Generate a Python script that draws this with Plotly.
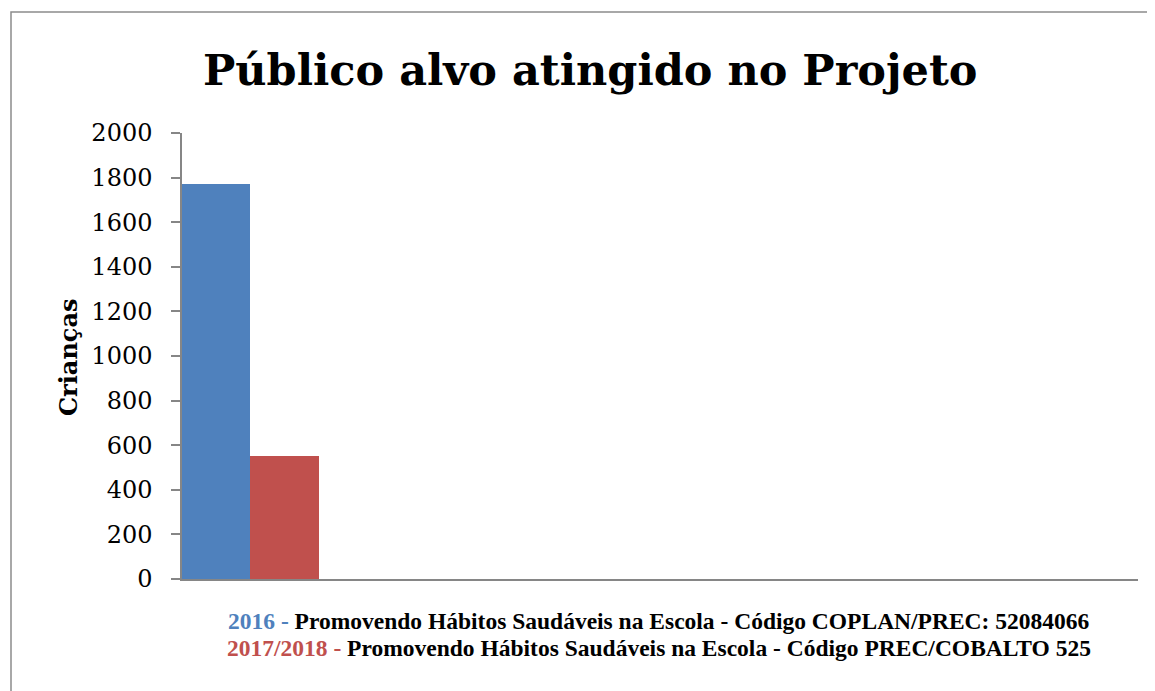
import plotly.graph_objects as go

title_text = "Público alvo atingido no Projeto"
y_title = "Crianças"
categories = [""]
series_names = ["2016", "2017/2018"]
series_values = [[1770], [550]]
series_colors = ["#4F81BD", "#C0504D"]
legend_desc = [
    "Promovendo Hábitos Saudáveis na Escola - Código COPLAN/PREC: 52084066",
    "Promovendo Hábitos Saudáveis na Escola - Código PREC/COBALTO 525",
]
y_ticks = list(range(0, 2001, 200))

OFF = 8  # page body margin
W, H = 1155 - OFF, 691 - OFF
L, R, T, B = 182 - OFF, 17, 133 - OFF, 691 - 579
pw, ph = W - L - R, H - T - B

def px(x):
    return (x - OFF - L) / pw

def py(y):
    return (H - B - (y - OFF)) / ph

fig = go.Figure()
for name, vals, col in zip(series_names, series_values, series_colors):
    fig.add_trace(go.Bar(x=categories, y=vals, name=name, marker=dict(color=col, line=dict(width=0))))

fig.update_layout(
    width=W, height=H,
    margin=dict(l=L, r=R, t=T, b=B),
    paper_bgcolor="white", plot_bgcolor="white",
    barmode="group", bargap=0, bargroupgap=0,
    showlegend=False,
    xaxis=dict(range=[-0.5, 6.5], showline=True, linecolor="#868686", linewidth=1.5,
               showgrid=False, showticklabels=False, ticks="", zeroline=False),
    yaxis=dict(range=[0, 2000], tickvals=y_ticks, showline=True, linecolor="#868686", linewidth=1.5,
               ticks="outside", ticklen=9, tickcolor="#868686", tickwidth=1.5,
               showgrid=False, zeroline=False, ticklabelstandoff=14,
               tickfont=dict(family="DejaVu Serif", size=24, color="black")),
)

# frame
fig.add_shape(type="rect", xref="paper", yref="paper",
              x0=px(11), x1=px(1175), y0=py(12), y1=py(710),
              line=dict(color="#8c8c8c", width=1.5), layer="below")

fig.add_annotation(text="<b>" + title_text + "</b>", xref="paper", yref="paper",
                   x=px(590), y=py(70), showarrow=False, xanchor="center", yanchor="middle",
                   font=dict(family="DejaVu Serif", size=43, color="black"))

fig.add_annotation(text="<b>" + y_title + "</b>", xref="paper", yref="paper",
                   x=px(68), y=py(357), showarrow=False, textangle=-90,
                   xanchor="center", yanchor="middle",
                   font=dict(family="DejaVu Serif", size=24, color="black"))

for i, (name, desc, col) in enumerate(zip(series_names, legend_desc, series_colors)):
    txt = "<b><span style='color:%s'>%s - </span>%s</b>" % (col, name, desc)
    fig.add_annotation(text=txt, xref="paper", yref="paper",
                       x=px(659), y=py(621 + 27 * i), showarrow=False,
                       xanchor="center", yanchor="middle",
                       font=dict(family="Liberation Serif", size=23.5, color="black"))

fig.write_html("out.html")
